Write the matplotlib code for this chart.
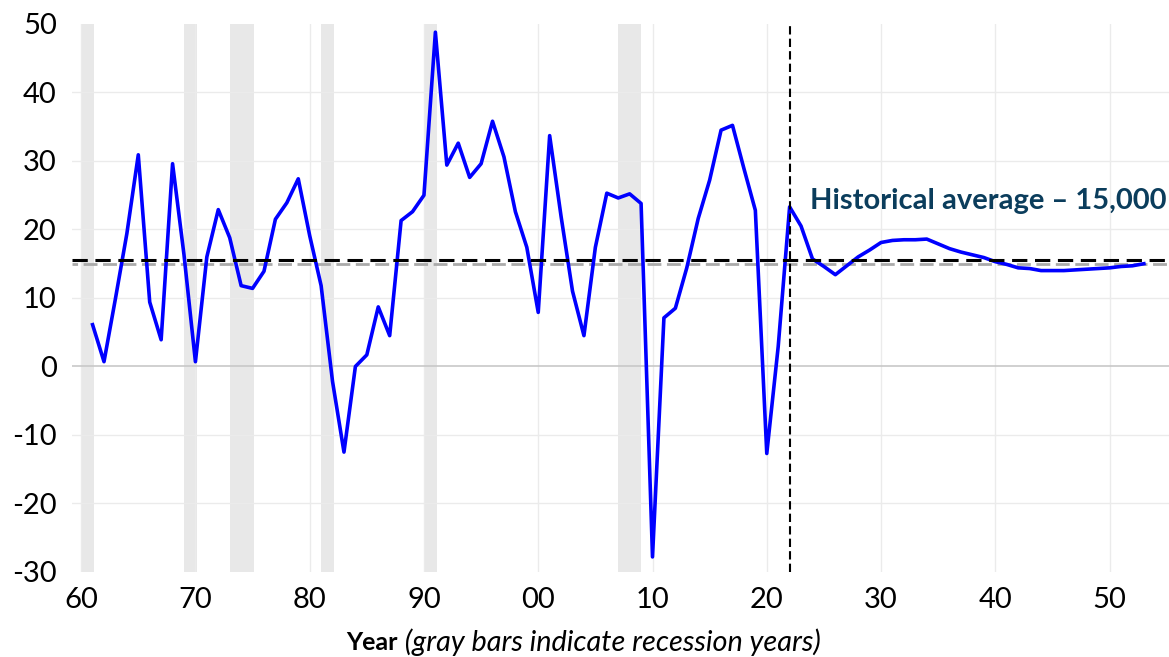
import matplotlib
matplotlib.use("Agg")
import matplotlib.pyplot as plt

# Annual values, 1961-2053
years = list(range(1961, 2054))
values = [
    6.1, 0.7, 9.9, 19.4, 30.9, 9.4, 3.9, 29.6, 16.3, 0.7,
    16.0, 22.9, 18.8, 11.8, 11.4, 13.9, 21.5, 23.9, 27.4, 19.1,
    11.8, -2.2, -12.5, 0.0, 1.7, 8.7, 4.5, 21.3, 22.6, 25.0,
    48.8, 29.4, 32.6, 27.6, 29.6, 35.8, 30.6, 22.6, 17.4, 7.9,
    33.7, 21.9, 11.0, 4.5, 17.4, 25.3, 24.6, 25.2, 23.8, -27.8,
    7.1, 8.5, 14.4, 21.6, 27.2, 34.5, 35.2, 28.9, 22.8, -12.7,
    2.9, 23.3, 20.5, 15.7, 14.6, 13.4, 14.7, 16.0, 17.0, 18.1,
    18.4, 18.5, 18.5, 18.6, 17.9, 17.2, 16.7, 16.3, 15.9, 15.3,
    14.9, 14.4, 14.3, 14.0, 14.0, 14.0, 14.1, 14.2, 14.3, 14.4,
    14.6, 14.7, 15.0,
]

# Recession periods (gray bars)
recession_start = [1960, 1969, 1973, 1981, 1990, 2007]
recession_end = [1961.1, 1970.1, 1975.1, 1982.1, 1991.1, 2009.0]

avg_black = 15.5
avg_gray = 15.0
forecast_year = 2022

decades = list(range(1960, 2051, 10))
decade_labels = ["60", "70", "80", "90", "00", "10", "20", "30", "40", "50"]
y_ticks = list(range(-30, 51, 10))

plt.rcParams['font.family'] = ['Lato', 'DejaVu Sans']
plt.rcParams['axes.unicode_minus'] = False

fig = plt.figure(figsize=(11.69, 6.57), dpi=100)
ax = fig.add_axes([0.0616, 0.1294, 0.9384, 0.8341])

# Recession bars
for s, e in zip(recession_start, recession_end):
    ax.axvspan(s, e, color="#E8E8E8", lw=0, zorder=0)

# Gridlines
for d in decades:
    ax.axvline(d, color="#EBEBEB", lw=1, zorder=0.5)
for t in y_ticks[1:-1]:
    if t == 0:
        ax.axhline(t, color="#C8C8C8", lw=1.2, zorder=0.6)
    else:
        ax.axhline(t, color="#EBEBEB", lw=1, zorder=0.5)

# Historical average lines
ax.axhline(avg_gray, color="#AAAAAA", lw=2, ls=(3, (5, 2)), zorder=1)
ax.axhline(avg_black, color="black", lw=2.2, ls=(0, (5, 2.5)), zorder=3)

# Forecast divider
ax.axvline(forecast_year, color="black", lw=1.5, ls=(0, (4, 2)), zorder=3)

ax.plot(years, values, color="#0000FF", lw=2.6, zorder=2)

ax.text(2055.0, 23.0, "Historical average \u2013 15,000", ha="right", va="baseline",
        fontsize=21, fontweight="bold", color="#0B3D5C")

ax.set_xlim(1959.2, 2055.2)
ax.set_ylim(-30, 50)
ax.set_xticks(decades)
ax.set_xticklabels(decade_labels)
ax.set_yticks(y_ticks)
ax.tick_params(axis="both", length=0, labelsize=21, pad=11)
for sp in ax.spines.values():
    sp.set_visible(False)

# x-axis caption: bold word + italic note
label_y = 1 - 642 / 657
split_x = 0.3405
fig.text(split_x, label_y, "Year", ha="right", va="center",
         fontsize=18, fontweight="bold")
fig.text(split_x, label_y, " (gray bars indicate recession years)", ha="left",
         va="center", fontsize=20.8, fontstyle="italic")

fig.savefig("out.png", dpi=100)
